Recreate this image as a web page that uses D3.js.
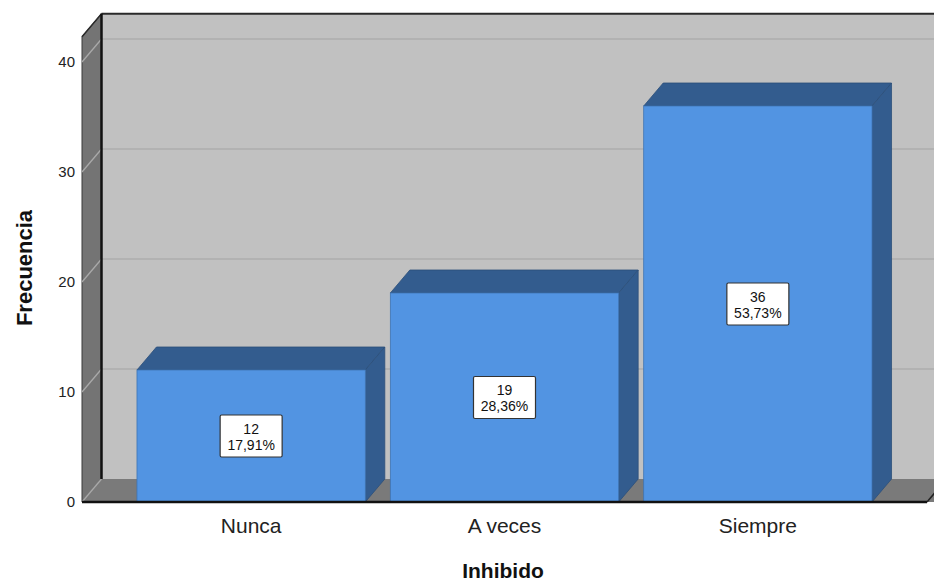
<!DOCTYPE html>
<html>
<head>
<meta charset="utf-8">
<script src="https://cdn.jsdelivr.net/npm/d3@7/dist/d3.min.js"></script>
<style>
  html, body { margin: 0; padding: 0; background: #ffffff; }
  svg { display: block; }
  text { font-family: "Liberation Sans", Arial, sans-serif; }
</style>
</head>
<body>
<svg id="chart" width="934" height="583"></svg>
<script>
// Frequency of "Inhibido" responses
const categories = ["Nunca", "A veces", "Siempre"];
const counts = [12, 19, 36];
const percents = ["17,91%", "28,36%", "53,73%"];
const yTicks = [0, 10, 20, 30, 40];

const W = 934, H = 583;
const svg = d3.select("#chart");

// 3D depth offset of the box (front plane -> back wall)
const dx = 19.5, dy = -23;

// front-plane scales
const x = d3.scaleBand()
  .domain(categories)
  .range([82, 927])
  .paddingInner(0.0988)
  .paddingOuter(0.217);
const y = d3.scaleLinear().domain([0, 42.3]).range([502, 36.7]);

const xL = 82, xR = 927, yB = y(0), yT = y(42.3);

// back wall
svg.append("rect")
  .attr("x", xL + dx).attr("y", yT + dy)
  .attr("width", (xR - xL) + 40).attr("height", yB - yT)
  .attr("fill", "#c1c1c1");

// left wall
svg.append("path")
  .attr("d", `M${xL},${yB} L${xL},${yT} L${xL + dx},${yT + dy} L${xL + dx},${yB + dy} Z`)
  .attr("fill", "#747474").attr("stroke", "#3a3a3a").attr("stroke-width", 1);

// floor
svg.append("path")
  .attr("d", `M${xL},${yB} L${xL + dx},${yB + dy} L${xR + dx + 40},${yB + dy} L${xR + 40},${yB} Z`)
  .attr("fill", "#7a7a7a");

// gridlines: across the back wall and diagonally across the left wall
const grid = svg.append("g");
yTicks.forEach(t => {
  if (t > 0) {
    grid.append("line")
      .attr("x1", xL + dx).attr("x2", W + 20)
      .attr("y1", y(t) + dy).attr("y2", y(t) + dy)
      .attr("stroke", "#acacac").attr("stroke-width", 1.5);
  }
  grid.append("line")
    .attr("x1", xL).attr("y1", y(t))
    .attr("x2", xL + dx).attr("y2", y(t) + dy)
    .attr("stroke", "#a9a9a9").attr("stroke-width", 1.3);
});

// box edges
svg.append("line")
  .attr("x1", xL + dx).attr("x2", W + 20)
  .attr("y1", yT + dy).attr("y2", yT + dy)
  .attr("stroke", "#2a2a2a").attr("stroke-width", 2);
svg.append("line")
  .attr("x1", xL).attr("y1", yT)
  .attr("x2", xL + dx).attr("y2", yT + dy)
  .attr("stroke", "#2a2a2a").attr("stroke-width", 1.5);
svg.append("line")
  .attr("x1", xL + dx).attr("x2", xL + dx)
  .attr("y1", yT + dy).attr("y2", yB + dy)
  .attr("stroke", "#111").attr("stroke-width", 2.5);

// bars
const bw = x.bandwidth();
const bars = svg.append("g");
categories.forEach((c, i) => {
  const x0 = x(c), x1 = x0 + bw, yv = y(counts[i]);
  // top face
  bars.append("path")
    .attr("d", `M${x0},${yv} L${x0 + dx},${yv + dy} L${x1 + dx},${yv + dy} L${x1},${yv} Z`)
    .attr("fill", "#335c8e").attr("stroke", "#2c4f7a").attr("stroke-width", 0.8);
  // side face
  bars.append("path")
    .attr("d", `M${x1},${yv} L${x1 + dx},${yv + dy} L${x1 + dx},${yB + dy} L${x1},${yB} Z`)
    .attr("fill", "#335c8e").attr("stroke", "#2c4f7a").attr("stroke-width", 0.8);
  // front face
  bars.append("rect")
    .attr("x", x0).attr("y", yv)
    .attr("width", bw).attr("height", yB - yv)
    .attr("fill", "#5294e2").attr("stroke", "#3f74b3").attr("stroke-width", 0.8);
});

// floor front edge
svg.append("line")
  .attr("x1", xL).attr("x2", xR)
  .attr("y1", yB).attr("y2", yB)
  .attr("stroke", "#111").attr("stroke-width", 2.5);
svg.append("line")
  .attr("x1", xR).attr("y1", yB)
  .attr("x2", xR + dx).attr("y2", yB + dy)
  .attr("stroke", "#222").attr("stroke-width", 1.5);

// value labels
const lab = svg.append("g");
categories.forEach((c, i) => {
  const cx = x(c) + bw / 2, cy = y(counts[i] / 2);
  lab.append("rect")
    .attr("x", cx - 31).attr("y", cy - 21)
    .attr("width", 62).attr("height", 42)
    .attr("rx", 1.5)
    .attr("fill", "#ffffff").attr("stroke", "#333").attr("stroke-width", 1.2);
  lab.append("text")
    .attr("x", cx).attr("y", cy - 2.5)
    .attr("text-anchor", "middle")
    .attr("font-size", 14).attr("fill", "#111")
    .text(counts[i]);
  lab.append("text")
    .attr("x", cx).attr("y", cy + 13.5)
    .attr("text-anchor", "middle")
    .attr("font-size", 14).attr("fill", "#111")
    .text(percents[i]);
});

// y tick labels
svg.append("g").selectAll("text")
  .data(yTicks).join("text")
  .attr("x", 75).attr("y", d => y(d))
  .attr("dy", "0.36em")
  .attr("text-anchor", "end")
  .attr("font-size", 15).attr("fill", "#222")
  .text(d => d);

// x category labels
svg.append("g").selectAll("text")
  .data(categories).join("text")
  .attr("x", d => x(d) + bw / 2).attr("y", 533)
  .attr("text-anchor", "middle")
  .attr("font-size", 21).attr("fill", "#222")
  .text(d => d);

// axis titles
svg.append("text")
  .attr("x", 503).attr("y", 578)
  .attr("text-anchor", "middle")
  .attr("font-size", 21).attr("font-weight", "bold").attr("fill", "#111")
  .text("Inhibido");
svg.append("text")
  .attr("transform", "translate(32,268) rotate(-90)")
  .attr("text-anchor", "middle")
  .attr("font-size", 22).attr("font-weight", "bold").attr("fill", "#111")
  .text("Frecuencia");
</script>
</body>
</html>
